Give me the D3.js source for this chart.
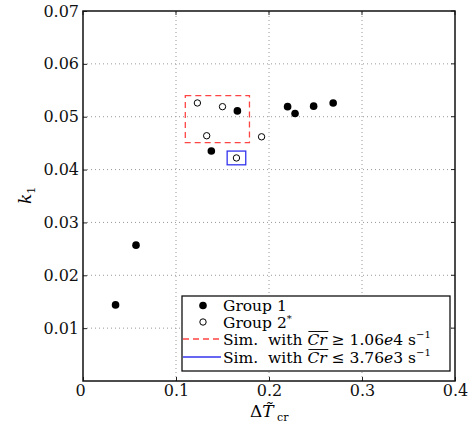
<!DOCTYPE html>
<html>
<head>
<meta charset="utf-8">
<script src="https://cdn.jsdelivr.net/npm/d3@7"></script>
<style>
body { margin: 0; background: #fff; }
svg text { font-family: "DejaVu Serif", "Liberation Serif", serif !important; }
</style>
</head>
<body>
<script>
// data
var group1X = [0.035, 0.057, 0.138, 0.166, 0.220, 0.228, 0.248, 0.269];
var group1Y = [0.0144, 0.0257, 0.0435, 0.0511, 0.0519, 0.0506, 0.0520, 0.0526];
var group2X = [0.123, 0.133, 0.150, 0.165, 0.192];
var group2Y = [0.0526, 0.0464, 0.0519, 0.0422, 0.0462];
// boxes: [x0, x1, y0, y1]
var redBox = [0.110, 0.179, 0.0451, 0.0540];
var blueBox = [0.155, 0.175, 0.0409, 0.0435];
var xTicks = [0, 0.1, 0.2, 0.3, 0.4];
var yTicks = [0.01, 0.02, 0.03, 0.04, 0.05, 0.06, 0.07];

var W = 473, H = 431;
var margin = {left: 83, right: 18, top: 11, bottom: 50};
var FONT = "'DejaVu Serif', 'Liberation Serif', serif";

var xScale = d3.scaleLinear().domain([0, 0.4]).range([margin.left, W - margin.right]);
var yScale = d3.scaleLinear().domain([0, 0.07]).range([H - margin.bottom, margin.top]);

var svg = d3.select("body").append("svg")
            .attr("width", W)
            .attr("height", H)
            .attr("font-family", FONT);

//grid lines
svg.append("g")
   .selectAll("line")
   .data(xTicks.slice(1, -1))
   .enter().append("line")
   .attr("x1", function(d){ return xScale(d); })
   .attr("x2", function(d){ return xScale(d); })
   .attr("y1", yScale(0)).attr("y2", yScale(0.07))
   .attr("stroke", "#999").attr("stroke-width", 1)
   .attr("stroke-dasharray", "1,3");

svg.append("g")
   .selectAll("line")
   .data(yTicks.slice(0, -1))
   .enter().append("line")
   .attr("y1", function(d){ return yScale(d); })
   .attr("y2", function(d){ return yScale(d); })
   .attr("x1", xScale(0)).attr("x2", xScale(0.4))
   .attr("stroke", "#999").attr("stroke-width", 1)
   .attr("stroke-dasharray", "1,3");

//axes
var xAxis = d3.axisBottom(xScale).tickValues(xTicks).tickSize(-4).tickPadding(4)
              .tickFormat(function(d){ return d === 0 ? "0" : d3.format(".1f")(d); });
var yAxis = d3.axisLeft(yScale).tickValues(yTicks).tickSize(-4).tickPadding(4)
              .tickFormat(d3.format(".2f"));

var gx = svg.append("g")
   .attr("transform", "translate(0," + yScale(0) + ")")
   .call(xAxis);
var gy = svg.append("g")
   .attr("transform", "translate(" + xScale(0) + ",0)")
   .call(yAxis);
[gx, gy].forEach(function(g){
    g.attr("font-family", FONT);
    g.select(".domain").remove();
    g.selectAll("line").attr("stroke", "#222");
    g.selectAll("text").attr("font-size", 16).attr("fill", "#111");
});
gx.select(".tick text").attr("x", -3);

//ticks on top and right sides
svg.append("g").selectAll("line").data(xTicks).enter().append("line")
   .attr("x1", function(d){ return xScale(d); }).attr("x2", function(d){ return xScale(d); })
   .attr("y1", yScale(0.07)).attr("y2", yScale(0.07) + 4).attr("stroke", "#222");
svg.append("g").selectAll("line").data(yTicks).enter().append("line")
   .attr("y1", function(d){ return yScale(d); }).attr("y2", function(d){ return yScale(d); })
   .attr("x1", xScale(0.4)).attr("x2", xScale(0.4) - 4).attr("stroke", "#222");

//frame
svg.append("rect")
   .attr("x", xScale(0)).attr("y", yScale(0.07))
   .attr("width", xScale(0.4) - xScale(0))
   .attr("height", yScale(0) - yScale(0.07))
   .attr("fill", "none").attr("stroke", "#111").attr("stroke-width", 1.5);

//highlight boxes
function drawBox(b, color, dash){
    svg.append("rect")
       .attr("x", xScale(b[0])).attr("y", yScale(b[3]))
       .attr("width", xScale(b[1]) - xScale(b[0]))
       .attr("height", yScale(b[2]) - yScale(b[3]))
       .attr("fill", "none").attr("stroke", color).attr("stroke-width", 1.3)
       .attr("stroke-dasharray", dash);
}
drawBox(redBox, "#ff4444", "6,4");
drawBox(blueBox, "#3333ee", null);

//points
svg.append("g").selectAll("circle")
   .data(d3.zip(group1X, group1Y))
   .enter().append("circle")
   .attr("cx", function(d){ return xScale(d[0]); })
   .attr("cy", function(d){ return yScale(d[1]); })
   .attr("r", 3.8).attr("fill", "#000");

svg.append("g").selectAll("circle")
   .data(d3.zip(group2X, group2Y))
   .enter().append("circle")
   .attr("cx", function(d){ return xScale(d[0]); })
   .attr("cy", function(d){ return yScale(d[1]); })
   .attr("r", 3.2).attr("fill", "#fff").attr("stroke", "#000").attr("stroke-width", 1);

//legend
var lg = svg.append("g").attr("transform", "translate(182,296)");
lg.append("rect").attr("width", 268).attr("height", 75)
  .attr("fill", "#fff").attr("stroke", "#111").attr("stroke-width", 1.3);

var rowY = [9.5, 26, 43, 61];
lg.append("circle").attr("cx", 21).attr("cy", rowY[0]).attr("r", 3.8).attr("fill", "#000");
lg.append("circle").attr("cx", 21).attr("cy", rowY[1]).attr("r", 3.2)
  .attr("fill", "#fff").attr("stroke", "#000");
lg.append("line").attr("x1", 1).attr("x2", 39).attr("y1", rowY[2]).attr("y2", rowY[2])
  .attr("stroke", "#ff4444").attr("stroke-width", 1.3).attr("stroke-dasharray", "6,4");
lg.append("line").attr("x1", 1).attr("x2", 39).attr("y1", rowY[3]).attr("y2", rowY[3])
  .attr("stroke", "#3333ee").attr("stroke-width", 1.3);

var tx = 41, fs = 15.5;
lg.append("text").attr("x", tx).attr("y", rowY[0] + 5.5).attr("font-size", fs).text("Group 1");
var t2 = lg.append("text").attr("x", tx).attr("y", rowY[1] + 5.5).attr("font-size", fs);
t2.append("tspan").text("Group 2");
t2.append("tspan").attr("dy", -6).attr("font-size", 10).text("*");

function simLabel(y, op, val){
    var base = y + 5.5;
    var t = lg.append("text").attr("x", tx).attr("y", base).attr("font-size", fs);
    t.append("tspan").text("Sim.\u00a0 with ");
    var cr = t.append("tspan").attr("font-style", "italic").text("Cr");
    t.append("tspan").text(" " + op + " " + val.num);
    t.append("tspan").attr("font-style", "italic").text("e");
    t.append("tspan").text(val.exp + " s");
    t.append("tspan").attr("dy", -7).attr("font-size", 10).text("\u22121");
    //bar over Cr
    var bb = cr.node().getBBox();
    lg.append("line").attr("x1", bb.x + 1).attr("x2", bb.x + bb.width)
      .attr("y1", base - 13).attr("y2", base - 13)
      .attr("stroke", "#111").attr("stroke-width", 1);
}
simLabel(rowY[2], "\u2265", {num: "1.06", exp: "4"});
simLabel(rowY[3], "\u2264", {num: "3.76", exp: "3"});

//axis labels
var xl = svg.append("text").attr("x", 250).attr("y", 417).attr("font-size", 17);
xl.append("tspan").text("\u0394");
xl.append("tspan").attr("font-style", "italic").text("T\u0303");
xl.append("tspan").attr("dy", 4).attr("font-size", 11).text(" cr");

var yl = svg.append("text")
   .attr("transform", "translate(31,204) rotate(-90)")
   .attr("font-size", 17);
yl.append("tspan").attr("font-style", "italic").text("k");
yl.append("tspan").attr("dy", 4).attr("font-size", 11).text("1");
</script>
</body>
</html>
